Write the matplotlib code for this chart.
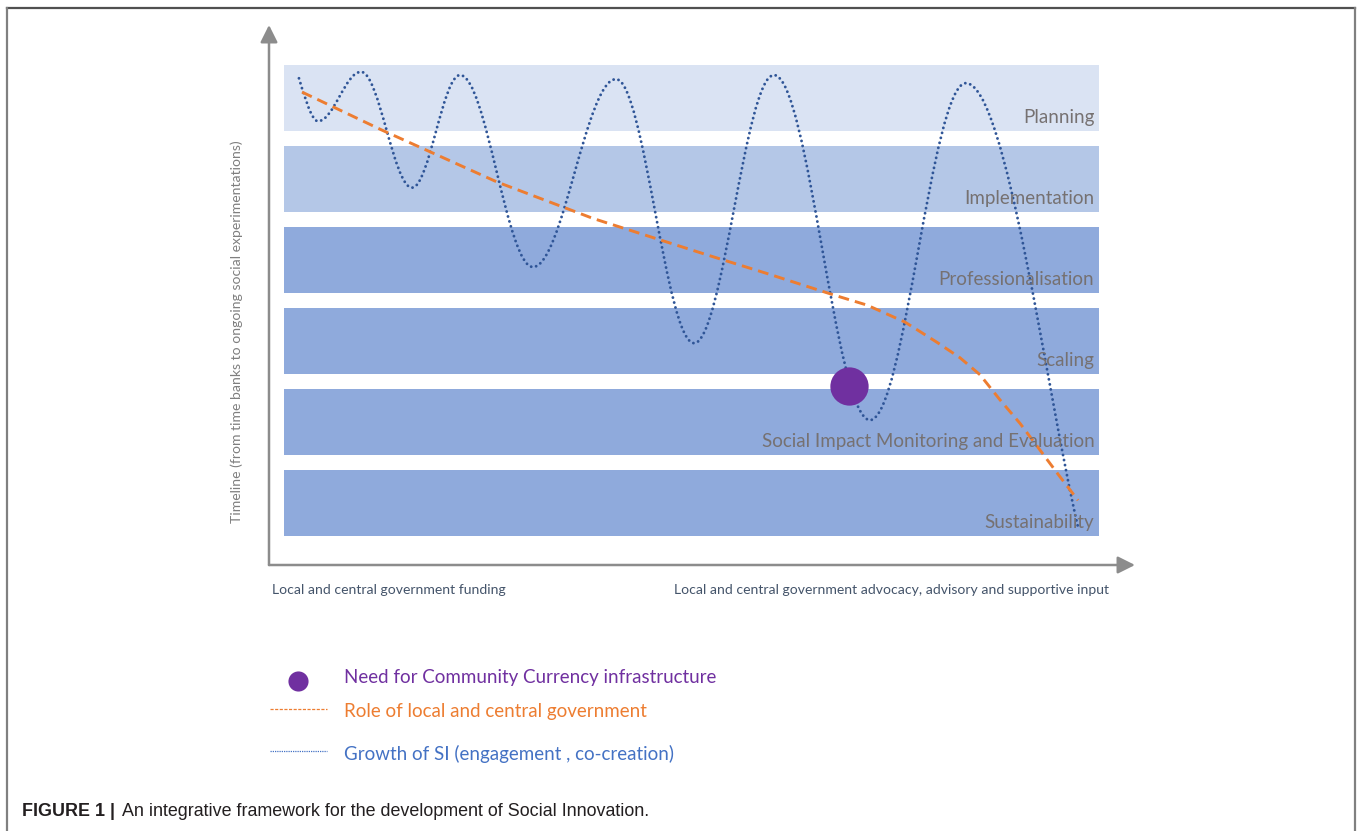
import matplotlib
matplotlib.use('Agg')
import matplotlib.pyplot as plt
from matplotlib.path import Path
from matplotlib.patches import PathPatch
from matplotlib.lines import Line2D

plt.rcParams['font.family'] = ['Lato', 'DejaVu Sans']

# stages, top to bottom (drawn bottom = 0)
stages = ['Planning', 'Implementation', 'Professionalisation', 'Scaling',
          'Social Impact Monitoring and Evaluation', 'Sustainability']
stage_colors = ['#DAE3F3', '#B4C7E7', '#8FAADC', '#8FAADC', '#8FAADC', '#8FAADC']

# growth of SI: turning points (x = progress 0-100, y = stage level)
si_x = [3.46, 5.66, 10.62, 16.51, 22.06, 30.48, 40.07, 49.08, 58.31, 69.40, 80.48, 93.42]
si_y = [5.24, 4.71, 5.32, 3.89, 5.28, 2.91, 5.23, 1.97, 5.28, 1.02, 5.18, -0.30]

# role of local and central government
gov_x = [3.81, 13.05, 26.33, 37.41, 50.58, 57.50, 65.36, 69.05, 73.44, 77.14, 79.79,
         82.10, 84.41, 86.72, 89.03, 91.34, 93.42]
gov_y = [5.07, 4.60, 3.96, 3.51, 3.06, 2.83, 2.56, 2.44, 2.23, 1.98, 1.79,
         1.58, 1.27, 0.98, 0.65, 0.32, 0.03]

# need for community currency infrastructure
need_x = [66.97]
need_y = [1.44]

W, H = 1358, 831
fig = plt.figure(figsize=(W / 100, H / 100), dpi=100)

# background axes in pixel units for frame, legend and caption
bg = fig.add_axes([0, 0, 1, 1])
bg.set_xlim(0, W)
bg.set_ylim(H, 0)
bg.axis('off')

# frame
bg.plot([7, 1355], [8, 8], color='#505050', lw=1.6)
bg.plot([7, 7], [8, H], color='#808080', lw=1.6)
bg.plot([1355, 1355], [8, H], color='#808080', lw=1.6)

# main diagram axes
ax = fig.add_axes([269 / W, (H - 565) / H, 866 / W, 540 / H])
ax.set_xlim(0, 100)
ax.set_ylim(-0.769, 5.898)
for s in ax.spines.values():
    s.set_visible(False)
ax.set_xticks([])
ax.set_yticks([])
ax.patch.set_alpha(0)

n = len(stages)
levels = [n - 1 - i for i in range(n)]
ax.barh(levels, 94.1, left=1.7, height=0.82, color=stage_colors, zorder=1)
for lev, name in zip(levels, stages):
    ax.text(95.3, lev - 0.24, name, ha='right', va='center', fontsize=13.5,
            color='#767171', zorder=5)

# axis arrows
arrow = dict(arrowstyle='-|>', color='#8C8C8C', lw=1.8, mutation_scale=26,
             shrinkA=0, shrinkB=0)
ax.annotate('', xy=(0, 1), xytext=(0, 0), xycoords='axes fraction', arrowprops=arrow)
ax.annotate('', xy=(1, 0), xytext=(0, 0), xycoords='axes fraction', arrowprops=arrow)

# smooth growth curve through the turning points
verts = [(si_x[0], si_y[0])]
codes = [Path.MOVETO]
for i in range(1, len(si_x)):
    x0, y0 = si_x[i - 1], si_y[i - 1]
    x1, y1 = si_x[i], si_y[i]
    dx = x1 - x0
    if i == 1:
        c1 = (x0 + 0.25 * dx, y0 - 0.35 * (y0 - y1))
    else:
        c1 = (x0 + 0.36 * dx, y0)
    if i == len(si_x) - 1:
        c2 = (x1 - 0.28 * dx, y1 + 0.3 * (y0 - y1))
    else:
        c2 = (x1 - 0.36 * dx, y1)
    verts += [c1, c2, (x1, y1)]
    codes += [Path.CURVE4] * 3
si_patch = PathPatch(Path(verts, codes), facecolor='none', edgecolor='#2F5597',
                     lw=2.1, linestyle=(0, (0.01, 1.75)), capstyle='round', zorder=3)
ax.add_patch(si_patch)

ax.plot(gov_x, gov_y, color='#ED7D31', lw=2.1, linestyle=(0, (3.7, 2.1)), zorder=4)
ax.scatter(need_x, need_y, s=760, color='#7030A0', zorder=6, linewidths=0)

# axis texts
fig.text(237 / W, 1 - 332 / H,
         'Timeline (from time banks to ongoing social experimentations)',
         rotation=90, ha='center', va='center', fontsize=10.1, color='#7F7F7F')
bg.text(272, 590, 'Local and central government funding', ha='left', va='center',
        fontsize=10.1, color='#44546A')
bg.text(674, 590, 'Local and central government advocacy, advisory and supportive input',
        ha='left', va='center', fontsize=10.1, color='#44546A')

# legend
bg.scatter([298], [681], s=210, color='#7030A0', linewidths=0)
bg.text(344, 677, 'Need for Community Currency infrastructure', ha='left', va='center',
        fontsize=13.5, color='#7030A0')
bg.add_line(Line2D([270, 327], [709, 709], color='#ED7D31', lw=0.9,
                   linestyle=(0, (2.5, 1.2))))
bg.text(344, 711, 'Role of local and central government', ha='left', va='center',
        fontsize=13.5, color='#ED7D31')
bg.add_line(Line2D([270, 327], [751, 751], color='#4472C4', lw=0.9,
                   linestyle=(0, (1, 0.8))))
bg.text(344, 754, 'Growth of SI (engagement , co-creation)', ha='left', va='center',
        fontsize=13.5, color='#4472C4')

# caption
cap_font = ['Liberation Sans Narrow', 'Liberation Sans']
bg.text(22, 812, 'FIGURE 1 |', ha='left', va='center', fontsize=12.9,
        fontweight='bold', color='#231F20', family=cap_font)
bg.text(122, 812, 'An integrative framework for the development of Social Innovation.',
        ha='left', va='center', fontsize=12.9, color='#231F20', family=cap_font)

fig.savefig('out.png', dpi=100)
